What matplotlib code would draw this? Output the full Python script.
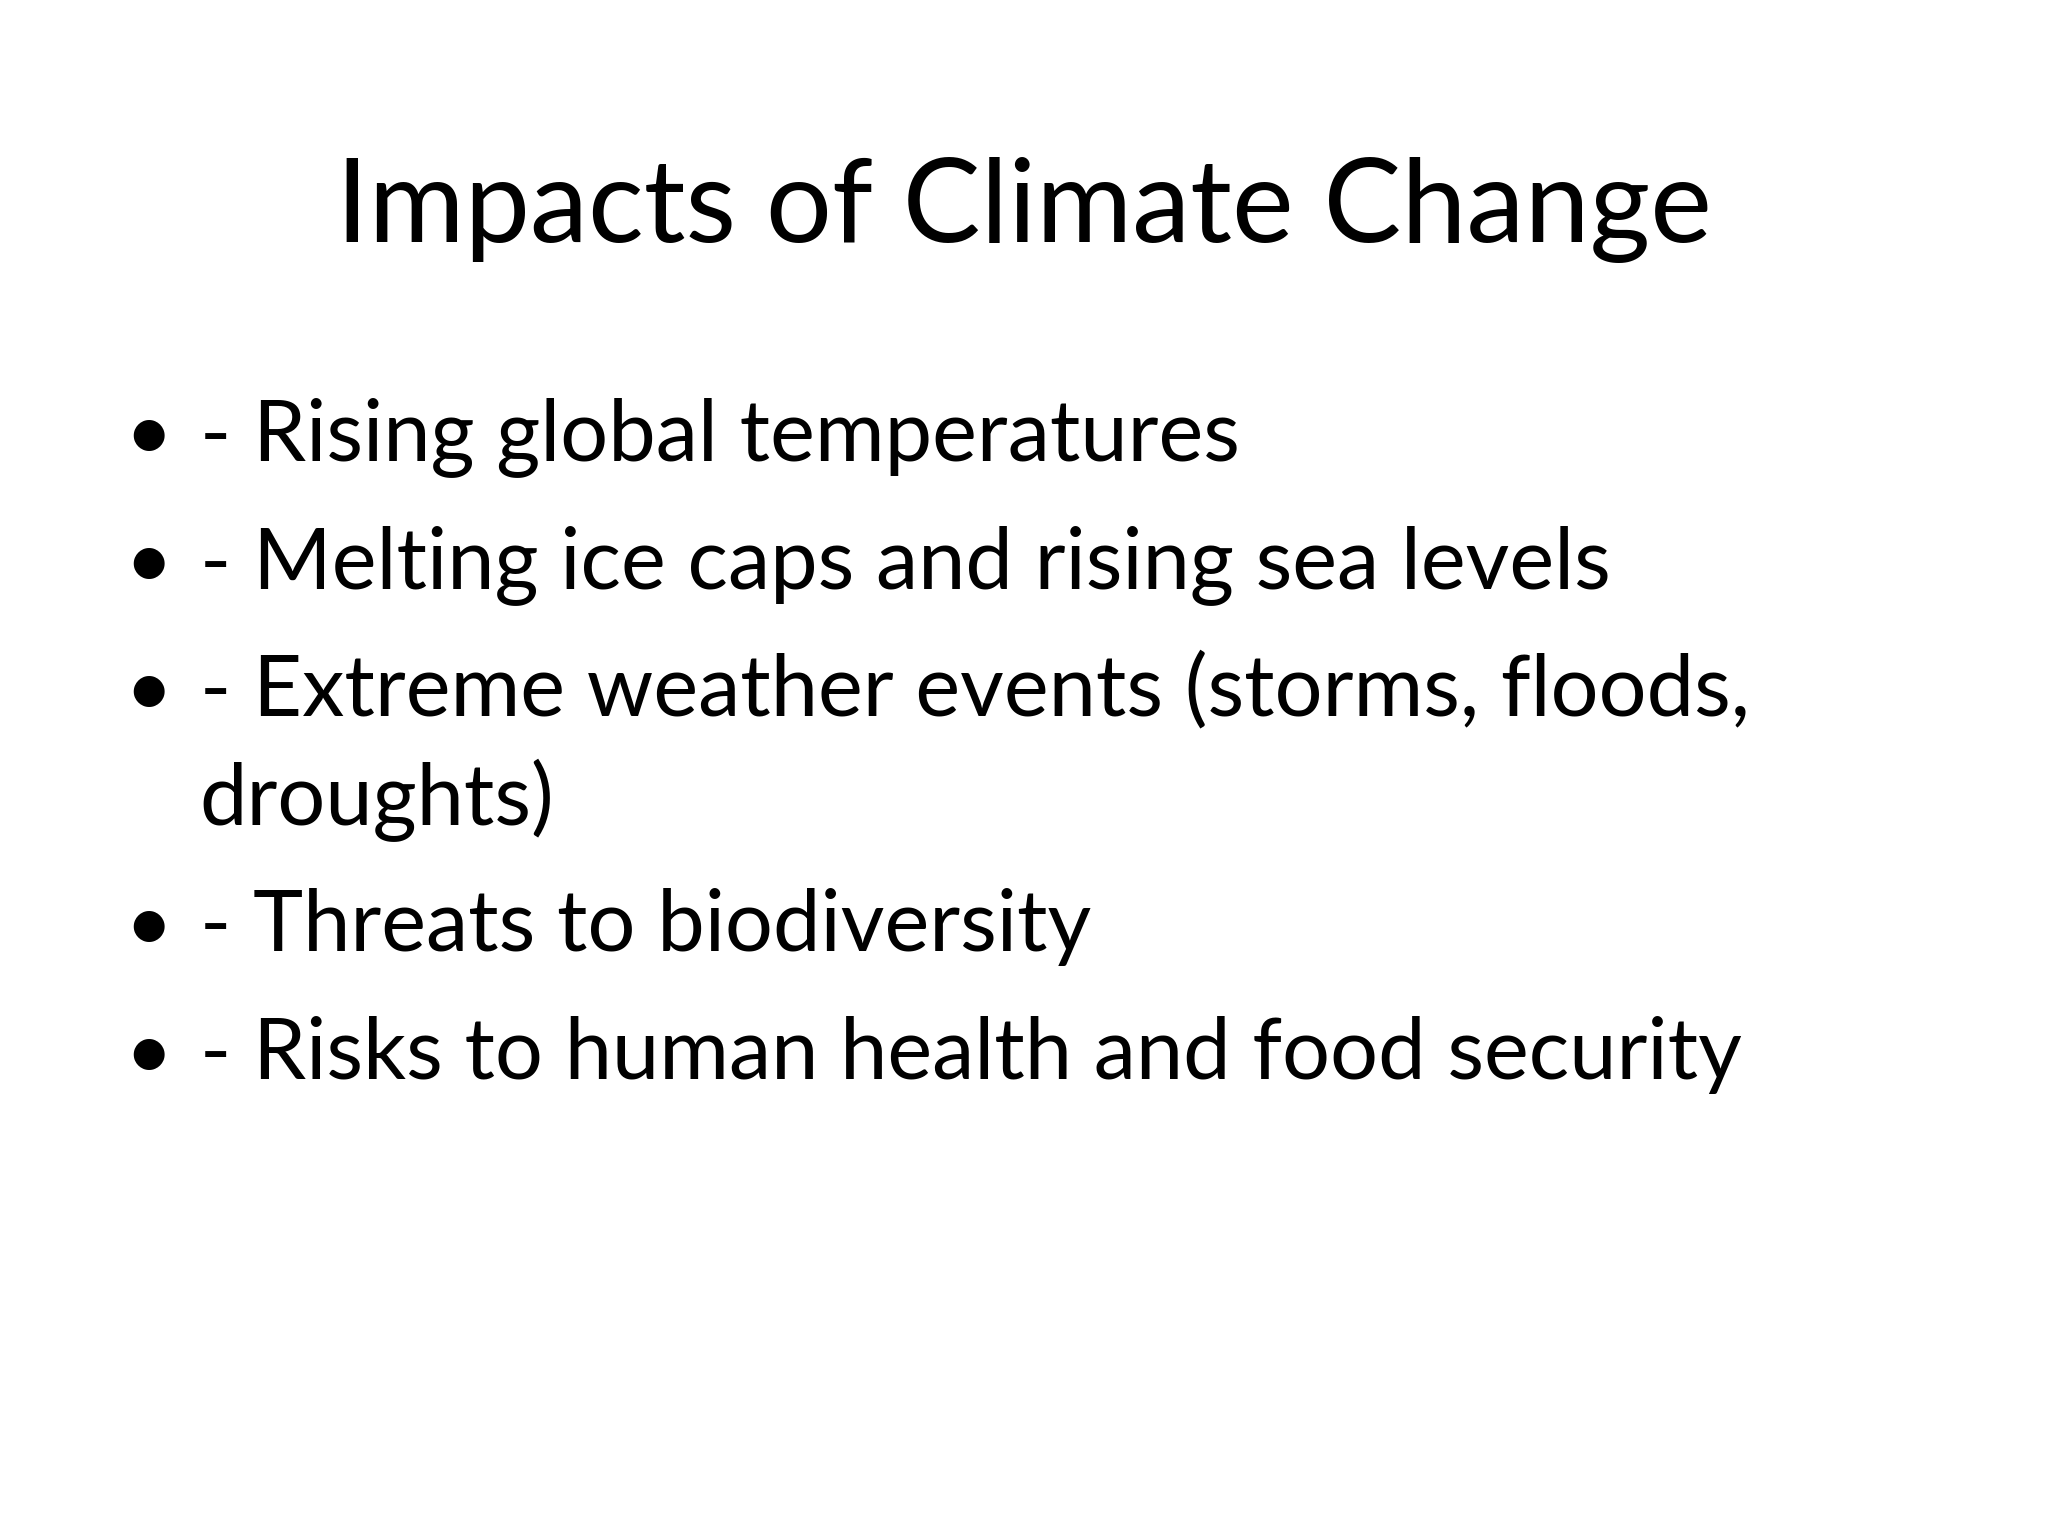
import matplotlib
matplotlib.use("Agg")
import matplotlib.pyplot as plt

title = "Impacts of Climate Change"
lines = ["- Rising global temperatures",
         "- Melting ice caps and rising sea levels",
         "- Extreme weather events (storms, floods,",
         "droughts)",
         "- Threats to biodiversity",
         "- Risks to human health and food security"]
has_bullet = [True, True, True, False, True, True]
baselines_px = [352, 450, 548, 632, 728, 826]  # in 1568x1176 reference scale

fig = plt.figure(figsize=(10.24, 7.68), dpi=200)
fig.patch.set_facecolor("white")
fam = ["Lato", "DejaVu Sans"]
fig.text(0.5, 1 - 185/1176, title, ha="center", va="baseline", fontsize=42, family=fam, color="black")
for t, b, y in zip(lines, has_bullet, baselines_px):
    yf = 1 - y/1176
    if b:
        fig.text(95/1568, yf, "•", ha="left", va="baseline", fontsize=30, family=fam)
    fig.text(153/1568, yf, t, ha="left", va="baseline", fontsize=30.5, family=fam)
fig.savefig("out.png", dpi=200, facecolor="white")
